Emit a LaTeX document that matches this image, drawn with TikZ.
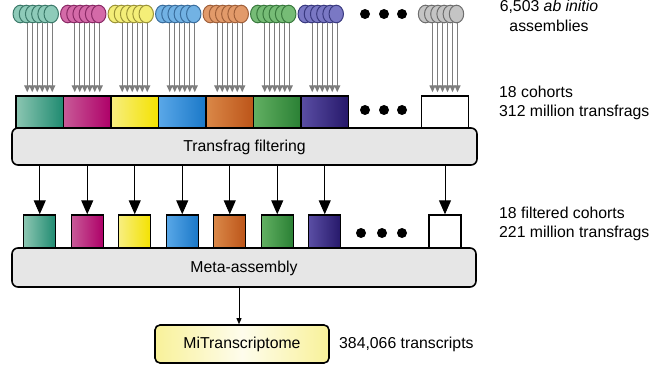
\documentclass[tikz,border=0pt]{standalone}
\usepackage{fontspec}
\setmainfont{Liberation Sans}
\usetikzlibrary{arrows.meta,calc}
\definecolor{tealA}{HTML}{8CC6B2}\definecolor{tealB}{HTML}{1E8A70}\definecolor{tealC}{HTML}{8ECBB9}\definecolor{tealD}{HTML}{3C7A6A}
\definecolor{magA}{HTML}{C85A98}\definecolor{magB}{HTML}{AE0068}\definecolor{magC}{HTML}{D46AA8}\definecolor{magD}{HTML}{8A2A66}
\definecolor{yelA}{HTML}{F7EE80}\definecolor{yelB}{HTML}{F4E200}\definecolor{yelC}{HTML}{F4EE78}\definecolor{yelD}{HTML}{9C9438}
\definecolor{bluA}{HTML}{5AA8E8}\definecolor{bluB}{HTML}{1A78C8}\definecolor{bluC}{HTML}{72B2E4}\definecolor{bluD}{HTML}{3A6E9E}
\definecolor{oraA}{HTML}{DA8848}\definecolor{oraB}{HTML}{BC5418}\definecolor{oraC}{HTML}{E29A6A}\definecolor{oraD}{HTML}{A0603A}
\definecolor{grnA}{HTML}{62B062}\definecolor{grnB}{HTML}{2A8034}\definecolor{grnC}{HTML}{76BC76}\definecolor{grnD}{HTML}{3A7A3E}
\definecolor{indA}{HTML}{5A4EA4}\definecolor{indB}{HTML}{26186A}\definecolor{indC}{HTML}{7A78C4}\definecolor{indD}{HTML}{3A3A80}
\definecolor{gryA}{HTML}{FFFFFF}\definecolor{gryB}{HTML}{FFFFFF}\definecolor{gryC}{HTML}{C4C4C4}\definecolor{gryD}{HTML}{6E6E6E}
\definecolor{panel}{HTML}{E6E6E6}
\definecolor{feedline}{HTML}{7E7E7E}
\tikzset{
  lbl/.style={font=\fontsize{15.8}{19.5}\selectfont, inner sep=0pt},
  cohortbox/.style={draw=black, line width=1.4pt, minimum width=47.5pt, minimum height=32pt, inner sep=0pt},
  fbox/.style={draw=black, line width=1.4pt, minimum width=32pt, minimum height=33pt, inner sep=0pt},
  panelbox/.style={draw=black, line width=1.6pt, fill=panel, rounded corners=6pt, inner sep=0pt},
  bigarrow/.style={draw=black, line width=1pt, -{Triangle[width=12pt,length=14pt]}},
  feedarrow/.style={draw=feedline, line width=1.4pt, -{Triangle[width=6pt,length=7pt]}},
  bubble/.style={line width=1pt},
  dotmark/.style={fill=black, circle, inner sep=0pt, minimum size=10pt}
}
\begin{document}
\begin{tikzpicture}[x=1pt,y=-1pt]
\useasboundingbox (0,0) rectangle (662,369);
% panels
\node[panelbox, minimum width=465pt, minimum height=37pt] (filt) at (244.5,146.5) {};
\node[lbl] at (244.5,147) {Transfrag filtering};
\node[panelbox, minimum width=464pt, minimum height=39pt] (meta) at (244,267.5) {};
\node[lbl] at (244,268) {Meta-assembly};
% cohorts
\foreach \i/\cx/\c in {1/39.75/teal,2/87.25/mag,3/134.75/yel,4/182.25/blu,5/229.75/ora,6/277.25/grn,7/324.75/ind,8/445/gry}{
  \foreach \j/\dx in {1/-15.5,2/-9.3,3/-3.1,4/3.1,5/9.3,6/15.5}{
    \filldraw[bubble, fill=\c C, draw=\c D] (\cx-4+\dx,14) ellipse (7.2 and 8.8);
  }
  \node[cohortbox, left color=\c A, right color=\c B] (c\i) at (\cx,112) {};
  \node[fbox, left color=\c A, right color=\c B] (f\i) at (\cx,231.5) {};
  \foreach \j/\dx in {1/-12.5,2/-7.5,3/-2.5,4/2.5,5/7.5,6/12.5}{
    \coordinate (s\i\j) at (\cx+\dx,23);
    \coordinate (t\i\j) at ($(c\i.north)+(\dx,-3)$);
    \draw[feedarrow] (s\i\j) -- (t\i\j);
  }
  \draw[bigarrow] (filt.south -| f\i.north) -- (f\i.north);
}
% ellipsis dots
\foreach \k/\x in {1/365,2/384,3/402}{
  \node[dotmark] (da\k) at (\x,14) {};
  \node[dotmark] (db\k) at (\x,110) {};
}
\foreach \k/\x in {1/361,2/382,3/402}{
  \node[dotmark] (dc\k) at (\x,233) {};
}
% final
\node[draw=black, line width=1.6pt, rounded corners=5pt, left color=yelA!80!white, right color=yelA!80!white, middle color=yelA!15!white, minimum width=174pt, minimum height=38pt, inner sep=0pt] (mi) at (242,344) {};
\node[lbl] at (242,344) {MiTranscriptome};
\coordinate (miin) at ($(mi.north)+(-3,0)$);
\draw[line width=0.9pt, -{Triangle[width=5pt,length=6pt]}] (meta.south -| miin) -- (miin);
% right labels
\node[lbl, align=center] (t1) at (549,16) {6,503 \textit{ab initio}\\assemblies};
\node[lbl, align=left, anchor=west] (t2) at (499,103) {18 cohorts\\312 million transfrags};
\node[lbl, align=left, anchor=west] (t3) at (499,224) {18 filtered cohorts\\221 million transfrags};
\node[lbl, anchor=west] (t4) at (339,344) {384,066 transcripts};
\end{tikzpicture}
\end{document}
